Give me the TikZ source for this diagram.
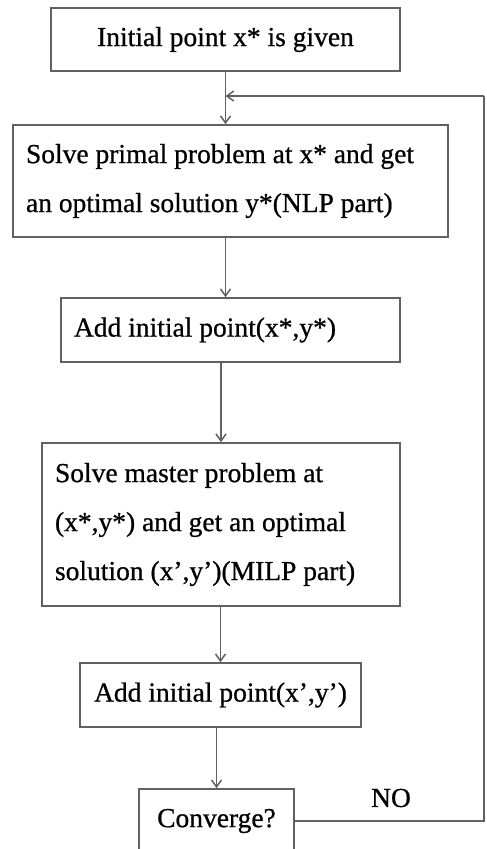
\documentclass[tikz,border=0pt]{standalone}
\usepackage{fontspec}
\setmainfont{Liberation Serif}[FakeBold=0.7]
\usetikzlibrary{arrows.meta}

\begin{document}
\begin{tikzpicture}[x=1pt, y=-1pt, >={Straight Barb[length=7pt,width=10pt]},
  font=\fontsize{27.5}{49}\selectfont,
  stage/.style={draw=black!62, line width=1.6pt, inner xsep=13pt, inner ysep=0pt,
    execute at begin node={\spaceskip=0pt\xspaceskip=0pt}},
  flow/.style={->, draw=black!62, line width=1.5pt},
  rail/.style={draw=black!62, line width=1.5pt}]
  % one unit is one pixel of the 487 x 849 frame, y running downwards
  \useasboundingbox (0,0) rectangle (487,849);
  \clip (0,0) rectangle (487,849);
  % the stages, top to bottom
  \node[stage, minimum width=349pt, minimum height=63pt, align=center] (start) at (225.5,39.5) {Initial point x* is given};
  \node[stage, text width=409pt, minimum height=112pt, align=left] (primal) at (230.5,181)
    {Solve primal problem at x* and get\\an optimal solution y*(NLP part)};
  \node[stage, text width=313pt, minimum height=64pt, align=left] (addxy) at (230.5,330) {Add initial point(x*,y*)};
  \node[stage, text width=332pt, minimum height=163pt, align=left] (master) at (221,524.5)
    {Solve master problem at\\(x*,y*) and get an optimal\\solution (x',y')(MILP part)};
  \node[stage, minimum width=281pt, minimum height=64pt, align=center] (addxp) at (220.5,695) {Add initial point(x',y')};
  % the test runs off the lower edge of the page
  \node[stage, minimum width=155pt, minimum height=64pt, align=center] (conv) at (216.5,821) {Converge?};
  \node (no) at (391,798) {NO};
  % where the way back joins the main line
  \coordinate (merge) at (225.5,96);
  \coordinate (corner) at (484,96);
  % main line
  \draw[flow] (start) -- (start.south |- primal.north);
  \draw[flow] (primal.south -| start.south) -- (addxy.north -| start.south);
  \draw[flow] (addxy.south -| master.north) -- (master.north);
  \draw[flow] (master.south -| addxp.north) -- (addxp.north);
  \draw[flow] (addxp.south -| conv.north) -- (conv.north);
  % NO: back to the primal problem
  \draw[rail] (conv.east) -| (corner);
  \draw[flow] (corner) -- (merge);
\end{tikzpicture}
\end{document}
